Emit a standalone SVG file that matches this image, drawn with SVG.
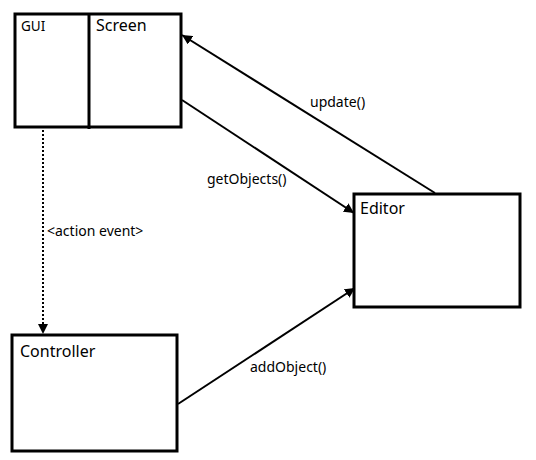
<svg xmlns="http://www.w3.org/2000/svg" width="536" height="460" viewBox="0 0 536 460">
<defs>
<marker id="arr" viewBox="0 0 10 10" refX="10" refY="5" markerWidth="10" markerHeight="10" markerUnits="userSpaceOnUse" orient="auto">
<path d="M0,0 L10,5 L0,10 z" fill="#000"/>
</marker>
</defs>
<style>
.box{fill:#fff;stroke:#000;stroke-width:3}
.t{font-family:"Noto Sans","Open Sans",sans-serif;fill:#000}
.big{font-size:16px}
.sm{font-size:14px}
.c{stroke:#000;stroke-width:2;fill:none}
</style>
<rect width="536" height="460" fill="#fff"/>
<g id="connectors">
<line class="c" x1="435" y1="193" x2="182" y2="35" marker-end="url(#arr)"/>
<line class="c" x1="182" y1="100" x2="354" y2="213" marker-end="url(#arr)"/>
<line class="c" x1="178" y1="404" x2="355" y2="288" marker-end="url(#arr)"/>
<line class="c" x1="43" y1="130" x2="43" y2="334" stroke-dasharray="2,2" marker-end="url(#arr)"/>
<text class="t sm" x="310" y="107">update()</text>
<text class="t sm" x="207" y="184">getObjects()</text>
<text class="t sm" x="250" y="372">addObject()</text>
<text class="t sm" x="47" y="236">&lt;action event&gt;</text>
</g>
<g id="gui-screen">
<rect class="box" x="15" y="14" width="166" height="113"/>
<line x1="89" y1="14" x2="89" y2="129" stroke="#000" stroke-width="3"/>
<text class="t" x="21" y="31" font-size="13.5">GUI</text>
<text class="t big" x="96" y="31">Screen</text>
</g>
<g id="editor">
<rect class="box" x="354" y="194" width="166" height="113"/>
<text class="t big" x="360" y="214">Editor</text>
</g>
<g id="controller">
<rect class="box" x="12" y="335" width="165" height="116"/>
<text class="t big" x="20" y="357">Controller</text>
</g>
</svg>
